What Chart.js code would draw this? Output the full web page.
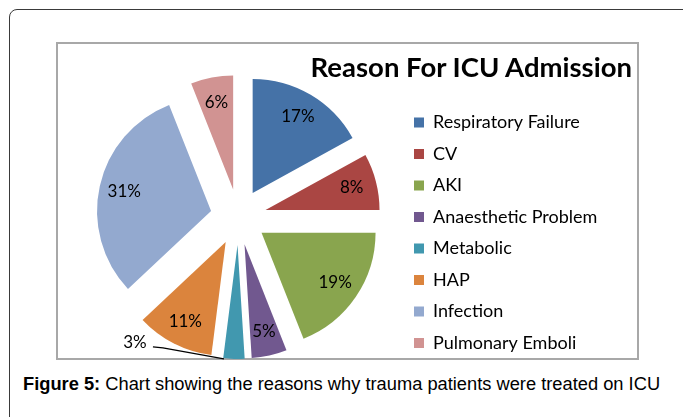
<!DOCTYPE html>
<html>
<head>
<meta charset="utf-8">
<script src="https://cdn.jsdelivr.net/npm/chart.js@4.4.0/dist/chart.umd.min.js"></script>
<style>
  body { margin: 0; width: 683px; height: 417px; overflow: hidden; background: #fff; position: relative; }
  .frame { position: absolute; left: 9px; top: 9px; width: 690px; height: 430px; border: 1px solid #3a3a3a; border-radius: 8px; }
  .plot-box { position: absolute; left: 56px; top: 42px; width: 579px; height: 314px; border: 2px solid #a8a8a8; }
  .chart-wrap { position: absolute; left: 56px; top: 44px; width: 585px; height: 325px; }
  .chart-title { position: absolute; right: 51px; top: 52.8px; font-family: Lato, sans-serif; font-weight: bold; font-size: 27.5px; line-height: 1; color: #000; white-space: nowrap; }
  .caption { position: absolute; left: 23px; top: 375px; font-family: "Liberation Sans", Arial, sans-serif; font-size: 18.3px; line-height: 1; color: #000; white-space: nowrap; }
</style>
</head>
<body>
<div class="frame"></div>
<div class="plot-box"></div>
<div class="chart-wrap"><canvas id="icuChart"></canvas></div>
<div class="chart-title" id="chartTitle"></div>
<div class="caption"><b>Figure 5:</b> Chart showing the reasons why trauma patients were treated on ICU</div>

<script>
// dados (percentagens)
const categories = ['Respiratory Failure', 'CV', 'AKI', 'Anaesthetic Problem', 'Metabolic', 'HAP', 'Infection', 'Pulmonary Emboli'];
const percentages = [17, 8, 19, 5, 3, 11, 31, 6];
const sliceColors = ['#4572A7', '#AA4643', '#89A54E', '#71588F', '#4198AF', '#DB843D', '#93A9CF', '#D19392'];
const chartTitle = 'Reason For ICU Admission';

document.getElementById('chartTitle').textContent = chartTitle;

const EXPLODE = 28;
const LEGEND_SIZE = 18;
const LEGEND_PAD = 13.5;
const BOX = 10;
const CANVAS_W = 585;
const LEGEND_LEFT = 344.5;

// largura da legenda para encostar os quadrados na posicao certa
const medir = document.createElement('canvas').getContext('2d');
medir.font = LEGEND_SIZE + 'px Lato';
const maiorTexto = Math.max(...categories.map(c => medir.measureText(c).width));
const larguraLegenda = LEGEND_PAD + BOX + LEGEND_SIZE / 2 + maiorTexto + 10;
const padRight = CANVAS_W - LEGEND_LEFT - larguraLegenda;

// afasta cada fatia do centro (pizza explodida)
const explodePlugin = {
    id: 'explode',
    afterDatasetUpdate(chart, args) {
        args.meta.data.forEach(arc => {
            const mid = (arc.startAngle + arc.endAngle) / 2;
            arc.x += Math.cos(mid) * EXPLODE;
            arc.y += Math.sin(mid) * EXPLODE;
        });
    }
};

// rotulos de percentagem dentro das fatias
const labelPlugin = {
    id: 'sliceLabels',
    afterDatasetsDraw(chart) {
        const ctx = chart.ctx;
        const meta = chart.getDatasetMeta(0);
        ctx.save();
        ctx.font = '17px Lato';
        ctx.fillStyle = '#000';
        ctx.strokeStyle = '#000';
        ctx.lineWidth = 1.2;
        ctx.textAlign = 'center';
        ctx.textBaseline = 'middle';
        meta.data.forEach((arc, i) => {
            const mid = (arc.startAngle + arc.endAngle) / 2;
            const text = percentages[i] + '%';
            if (percentages[i] >= 4) {
                const dist = arc.outerRadius * 0.78;
                ctx.fillText(text, arc.x + Math.cos(mid) * dist, arc.y + Math.sin(mid) * dist);
            } else {
                // fatia pequena: rotulo fora com linha guia
                const ex = arc.x + Math.cos(mid) * arc.outerRadius;
                const ey = arc.y + Math.sin(mid) * arc.outerRadius;
                const lx = ex - 99;
                const ly = ey - 16;
                ctx.fillText(text, lx, ly);
                ctx.beginPath();
                ctx.moveTo(lx + 18, ly + 4);
                ctx.lineTo(lx + 28, ly + 5);
                ctx.lineTo(ex - 10, ey);
                ctx.stroke();
            }
        });
        ctx.restore();
    }
};

const ctx = document.getElementById('icuChart').getContext('2d');
new Chart(ctx, {
    type: 'pie',
    data: {
        labels: categories,
        datasets: [{
            data: percentages,
            backgroundColor: sliceColors,
            borderWidth: 0,
            hoverOffset: 0,
            radius: 114,
            clip: false
        }]
    },
    options: {
        responsive: true,
        maintainAspectRatio: false,
        animation: false,
        layout: {
            padding: { left: 20.3, right: padRight, top: 24.5, bottom: 3.5 }
        },
        plugins: {
            tooltip: { enabled: false },
            legend: {
                position: 'right',
                align: 'end',
                labels: {
                    boxWidth: BOX,
                    boxHeight: BOX,
                    padding: LEGEND_PAD,
                    color: '#000',
                    font: { family: 'Lato', size: LEGEND_SIZE }
                }
            }
        }
    },
    plugins: [explodePlugin, labelPlugin]
});
</script>
</body>
</html>
